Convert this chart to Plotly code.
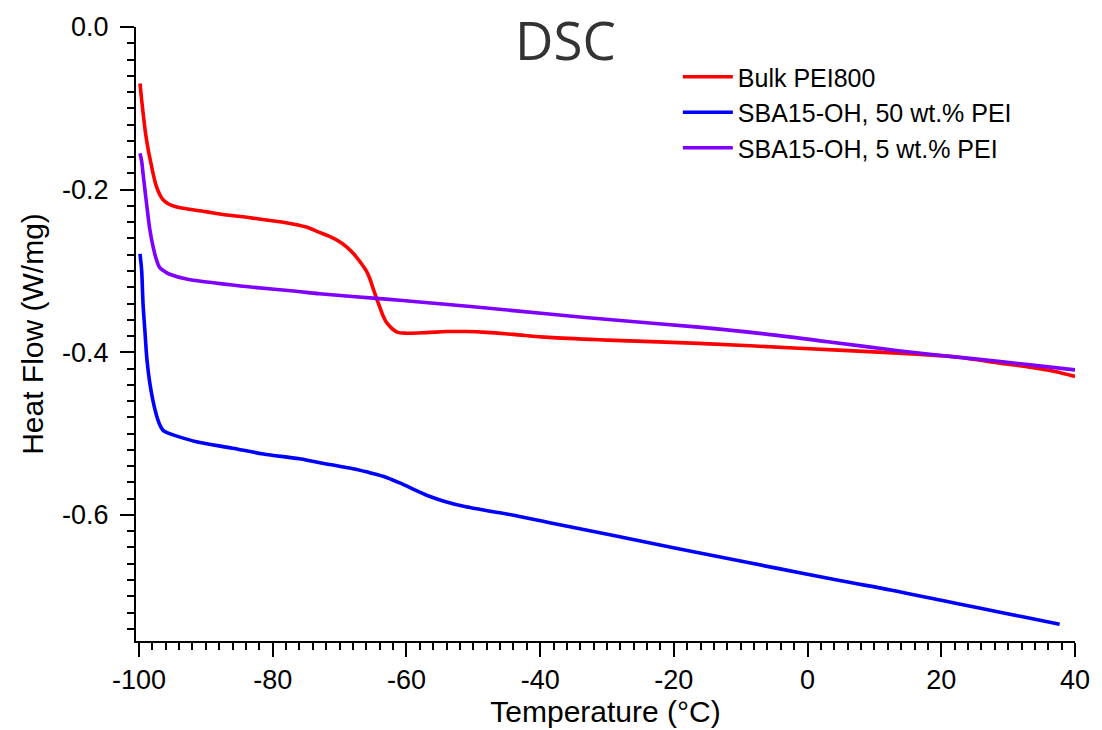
import plotly.graph_objects as go

# Bulk PEI800
red_x = [-99.85, -99.6, -99.3, -99.0, -98.6, -98.2, -97.9, -97.4, -96.9, -96.4, -95.5, -94.5,
         -93.4, -90.0, -87.9, -83.0, -78.0, -75.0, -73.0, -71.5, -70.0, -69.0, -68.0, -67.0,
         -66.0, -65.5, -65.0, -64.5, -64.0, -63.5, -63.0, -62.5, -62.0, -61.3, -60.0, -57.0,
         -54.0, -51.0, -48.0, -44.0, -38.7, -30.0, -16.3, -1.3, 13.6, 22.5, 28.5, 33.0, 37.0, 40.0]
red_y = [-0.0695, -0.090, -0.112, -0.132, -0.152, -0.168, -0.180, -0.196, -0.206, -0.2125, -0.218, -0.221,
         -0.223, -0.227, -0.230, -0.235, -0.2407, -0.246, -0.2525, -0.2575, -0.264, -0.270, -0.278, -0.288,
         -0.300, -0.309, -0.321, -0.333, -0.344, -0.355, -0.363, -0.368, -0.372, -0.3755, -0.3765, -0.3758,
         -0.3745, -0.3745, -0.3755, -0.378, -0.3817, -0.385, -0.389, -0.395, -0.401, -0.406, -0.413, -0.418, -0.4236, -0.4297]

# SBA15-OH, 50 wt.% PEI
blue_x = [-99.85, -99.6, -99.4, -99.1, -98.8, -98.4, -97.9, -97.4, -96.9, -96.4, -95.9, -94.0,
          -91.4, -86.0, -81.4, -76.0, -71.5, -68.5, -66.0, -63.5, -61.0, -58.5, -56.6, -54.0,
          -51.1, -47.0, -43.6, -38.0, -33.7, -25.0, -16.3, -4.3, 5.0, 12.6, 20.0, 25.5, 32.0, 37.7]
blue_y = [-0.279, -0.300, -0.340, -0.376, -0.410, -0.437, -0.460, -0.477, -0.489, -0.496, -0.4985, -0.504,
          -0.510, -0.518, -0.525, -0.531, -0.538, -0.5423, -0.547, -0.5524, -0.5606, -0.570, -0.577, -0.584,
          -0.590, -0.596, -0.601, -0.6105, -0.6175, -0.632, -0.6465, -0.666, -0.681, -0.6925, -0.705, -0.714, -0.725, -0.7345]

# SBA15-OH, 5 wt.% PEI
purple_x = [-99.85, -99.6, -99.4, -98.9, -98.4, -97.9, -97.4, -96.9, -95.9, -95.4, -92.9, -86.4,
            -83.0, -76.5, -73.0, -64.0, -61.0, -50.0, -38.7, -28.0, -16.3, -6.8, 3.0, 13.6,
            20.0, 28.5, 35.0, 40.0]
purple_y = [-0.1553, -0.165, -0.180, -0.215, -0.248, -0.270, -0.286, -0.296, -0.302, -0.304, -0.310, -0.317,
            -0.320, -0.325, -0.328, -0.334, -0.336, -0.344, -0.353, -0.361, -0.369, -0.377, -0.387, -0.398,
            -0.404, -0.411, -0.417, -0.4216]

names = ["Bulk PEI800", "SBA15-OH, 50 wt.% PEI", "SBA15-OH, 5 wt.% PEI"]
colors = ["#ff0000", "#0000ff", "#7f00ff"]

x_ticks = [-100, -80, -60, -40, -20, 0, 20, 40]
x_ticktext = ["-100", "-80", "-60", "-40", "-20", "0", "20", "40"]
y_ticks = [0.0, -0.2, -0.4, -0.6]
y_ticktext = ["0.0", "-0.2", "-0.4", "-0.6"]

fig = go.Figure()
for xs, ys, n, c in [(red_x, red_y, names[0], colors[0]),
                     (blue_x, blue_y, names[1], colors[1]),
                     (purple_x, purple_y, names[2], colors[2])]:
    fig.add_trace(go.Scatter(x=xs, y=ys, mode="lines", name=n,
                             line=dict(color=c, width=3.6, shape="spline", smoothing=0.9)))

fam = "Liberation Sans, Arial, sans-serif"
tick_font = dict(family=fam, size=27, color="black")
title_font = dict(family=fam, size=30, color="black")
fig.update_layout(
    width=1102, height=730,
    margin=dict(l=136, r=25, t=22, b=89),
    plot_bgcolor="white", paper_bgcolor="white",
    font=tick_font,
    showlegend=True,
    legend=dict(x=(679 - 136) / 941, y=0.956, xanchor="left", yanchor="top",
                font=dict(family=fam, size=25, color="black"),
                bgcolor="rgba(0,0,0,0)", tracegroupgap=0, itemwidth=50),
    xaxis=dict(range=[-100.45, 40], tickmode="array", tickvals=x_ticks, ticktext=x_ticktext,
               showline=True, linecolor="black", linewidth=2, mirror=False,
               ticks="outside", ticklen=14, tickwidth=2, tickcolor="black",
               showgrid=False, zeroline=False, tickfont=tick_font,
               minor=dict(dtick=2, tick0=-100, ticks="outside", ticklen=7, tickwidth=2, tickcolor="black", showgrid=False),
               title=dict(text="Temperature (°C)", font=title_font, standoff=2)),
    yaxis=dict(range=[-0.755, 0.0], tickmode="array", tickvals=y_ticks, ticktext=y_ticktext,
               showline=True, linecolor="black", linewidth=2, mirror=False,
               ticks="outside", ticklen=14, tickwidth=2, tickcolor="black",
               showgrid=False, zeroline=False, tickfont=tick_font, ticklabelstandoff=6,
               minor=dict(dtick=0.02, tick0=0, ticks="outside", ticklen=7, tickwidth=2, tickcolor="black", showgrid=False),
               title=dict(text="Heat Flow (W/mg)", font=title_font, standoff=10)),
)
fig.add_annotation(text="DSC", xref="paper", yref="paper", x=(566 - 136) / 941, y=1.0,
                   xanchor="center", yanchor="middle", yshift=-12, showarrow=False,
                   font=dict(family="Open Sans, sans-serif", size=53, color="#333333"))

fig.write_html("out.html")
